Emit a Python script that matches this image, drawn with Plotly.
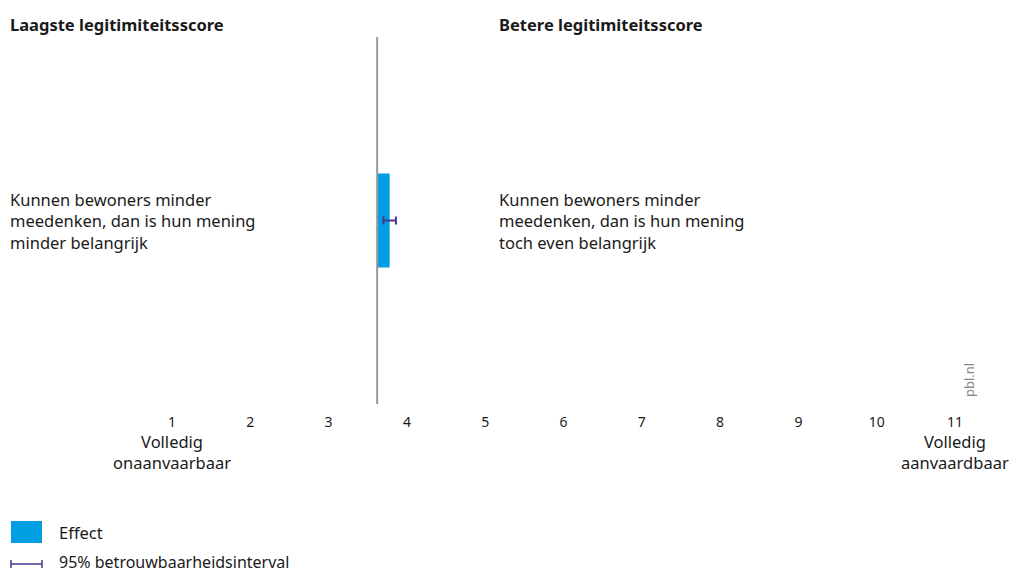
import plotly.graph_objects as go

# Data
statement_low = ["Kunnen bewoners minder<br>meedenken, dan is hun mening<br>minder belangrijk"]
statement_high = ["Kunnen bewoners minder<br>meedenken, dan is hun mening<br>toch even belangrijk"]
baseline = [3.62]
effect = [3.78]
ci_low = [3.70]
ci_high = [3.86]
tick_vals = [1, 2, 3, 4, 5, 6, 7, 8, 9, 10, 11]
tick_text = [str(v) for v in tick_vals]
end_labels = {1: "Volledig<br>onaanvaarbaar", 11: "Volledig<br>aanvaardbaar"}
headers = ["Laagste legitimiteitsscore", "Betere legitimiteitsscore"]
legend_labels = ["Effect", "95% betrouwbaarheidsinterval"]

BAR = "#009fe3"
CI = "#46378c"
FONT = "Noto Sans"
TXT = "#1a1a1a"

W, H = 1009, 575
L, R, T, B = 0, 0, 37, 171
PW, PH = W - L - R, H - T - B

def px_y(py):
    return (H - B - py) / PH

fig = go.Figure()

fig.add_trace(go.Bar(
    y=[0], x=[effect[0] - baseline[0]], base=baseline, orientation="h",
    width=0.512, marker=dict(color=BAR, line=dict(width=0)),
    showlegend=False, hoverinfo="skip",
))

fig.add_trace(go.Scatter(
    x=[(ci_low[0] + ci_high[0]) / 2], y=[0], mode="markers",
    marker=dict(size=1, opacity=0),
    error_x=dict(type="data", symmetric=False,
                 array=[ci_high[0] - (ci_low[0] + ci_high[0]) / 2],
                 arrayminus=[(ci_low[0] + ci_high[0]) / 2 - ci_low[0]],
                 color=CI, thickness=2, width=4),
    showlegend=False, hoverinfo="skip",
))

# baseline vertical line
fig.add_shape(type="line", xref="x", yref="paper", x0=baseline[0], x1=baseline[0],
              y0=0, y1=1, line=dict(color="#999999", width=2))

# x range so that 1 -> px 172 and 11 -> px 955
scale = (955 - 172) / 10
x0 = 1 - (172 - L) / scale
x1 = x0 + PW / scale

annotations = []
annotations.append(dict(text=f"<b>{headers[0]}</b>", xref="paper", yref="paper",
                        x=8 / W, y=px_y(25), xanchor="left", yanchor="middle",
                        showarrow=False, font=dict(size=16.5, color=TXT, family=FONT)))
annotations.append(dict(text=f"<b>{headers[1]}</b>", xref="paper", yref="paper",
                        x=497 / W, y=px_y(25), xanchor="left", yanchor="middle",
                        showarrow=False, font=dict(size=16.5, color=TXT, family=FONT)))
annotations.append(dict(text=statement_low[0], xref="paper", yref="y", x=8 / W, y=0,
                        xanchor="left", yanchor="middle", align="left", showarrow=False,
                        font=dict(size=16.5, color=TXT, family=FONT)))
annotations.append(dict(text=statement_high[0], xref="paper", yref="y", x=497 / W, y=0,
                        xanchor="left", yanchor="middle", align="left", showarrow=False,
                        font=dict(size=16.5, color=TXT, family=FONT)))
for xv, lab in end_labels.items():
    annotations.append(dict(text=lab, xref="x", yref="paper", x=xv, y=px_y(452),
                            xanchor="center", yanchor="middle", align="center", showarrow=False,
                            font=dict(size=16.5, color=TXT, family=FONT)))
annotations.append(dict(text="pbl.nl", xref="paper", yref="paper", x=969 / W, y=px_y(380),
                        xanchor="center", yanchor="middle", textangle=-90, showarrow=False,
                        font=dict(size=13, color="#888888", family=FONT)))
# legend
annotations.append(dict(text=legend_labels[0], xref="paper", yref="paper", x=57 / W, y=px_y(532),
                        xanchor="left", yanchor="middle", showarrow=False,
                        font=dict(size=16.5, color=TXT, family=FONT)))
annotations.append(dict(text=legend_labels[1], xref="paper", yref="paper", x=57 / W, y=px_y(562),
                        xanchor="left", yanchor="middle", showarrow=False,
                        font=dict(size=16, color=TXT, family=FONT)))

fig.add_shape(type="rect", xref="paper", yref="paper", x0=11 / W, x1=42 / W,
              y0=px_y(543), y1=px_y(521), fillcolor=BAR, line=dict(width=0))
fig.add_shape(type="line", xref="paper", yref="paper", x0=11 / W, x1=42 / W,
              y0=px_y(564), y1=px_y(564), line=dict(color=CI, width=1.5))
for xx in (11, 42):
    fig.add_shape(type="line", xref="paper", yref="paper", x0=xx / W, x1=xx / W,
                  y0=px_y(560), y1=px_y(568), line=dict(color=CI, width=1.5))

fig.update_layout(
    width=W, height=H, margin=dict(l=L, r=R, t=T, b=B),
    paper_bgcolor="white", plot_bgcolor="white",
    font=dict(family=FONT, color=TXT),
    showlegend=False,
    annotations=annotations,
    xaxis=dict(range=[x0, x1], tickvals=tick_vals, ticktext=tick_text, showgrid=False,
               zeroline=False, showline=False, ticks="", ticklabelstandoff=8,
               tickfont=dict(size=14, color=TXT, family=FONT), fixedrange=True),
    yaxis=dict(range=[-1, 1], visible=False, fixedrange=True),
)

fig.write_html("out.html", config={"displayModeBar": False},
               post_script="document.body.style.margin='0';document.body.style.overflow='hidden';")
